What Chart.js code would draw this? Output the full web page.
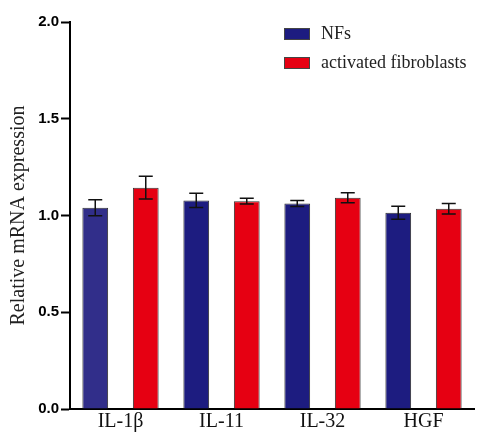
<!DOCTYPE html>
<html>
<head>
<meta charset="utf-8">
<script src="https://cdn.jsdelivr.net/npm/chart.js@4"></script>
<style>
  html, body { margin: 0; padding: 0; background: #fff; }
  #wrap { width: 477px; height: 436px; position: relative; }
</style>
</head>
<body>
<div id="wrap"><canvas id="chart"></canvas></div>
<script>
const genes = ['IL-1β', 'IL-11', 'IL-32', 'HGF']
const nfValues = [1.04, 1.078, 1.062, 1.014]
const nfErrors = [0.041, 0.037, 0.016, 0.034]
const afValues = [1.144, 1.074, 1.092, 1.035]
const afErrors = [0.059, 0.015, 0.026, 0.027]
const yTicks = [0, 0.5, 1.0, 1.5, 2.0]

const serif = "'Liberation Serif', 'Times New Roman', serif"
const sans = "'Liberation Sans', Arial, sans-serif"

// error bars drawn on top of each bar
const errorBars = {
  id: 'errorBars',
  afterDatasetsDraw(chart) {
    const ctx = chart.ctx
    const y = chart.scales.y
    ctx.save()
    ctx.strokeStyle = '#111'
    ctx.lineWidth = 1.5
    chart.data.datasets.forEach((ds, i) => {
      const meta = chart.getDatasetMeta(i)
      meta.data.forEach((bar, j) => {
        const v = ds.data[j]
        const e = ds.errors[j]
        const top = y.getPixelForValue(v + e)
        const bot = y.getPixelForValue(v - e)
        const x = bar.x
        ctx.beginPath()
        ctx.moveTo(x, top); ctx.lineTo(x, bot)
        ctx.moveTo(x - 7, top); ctx.lineTo(x + 7, top)
        ctx.moveTo(x - 7, bot); ctx.lineTo(x + 7, bot)
        ctx.stroke()
      })
    })
    ctx.restore()
  },
}

// legend in the upper right corner
const cornerLegend = {
  id: 'cornerLegend',
  afterDraw(chart) {
    const ctx = chart.ctx
    ctx.save()
    chart.data.datasets.forEach((ds, i) => {
      const top = 28 + i * 29
      ctx.fillStyle = Array.isArray(ds.backgroundColor) ? ds.backgroundColor[1] : ds.backgroundColor
      ctx.fillRect(284, top, 26, 12)
      ctx.strokeStyle = '#444'
      ctx.lineWidth = 1
      ctx.strokeRect(284.5, top + 0.5, 25, 11)
      ctx.fillStyle = '#222'
      ctx.font = '18px ' + serif
      ctx.textBaseline = 'middle'
      ctx.fillText(ds.label, 321, top + 6)
    })
    ctx.restore()
  },
}

new Chart(document.getElementById('chart'), {
  type: 'bar',
  data: {
    labels: genes,
    datasets: [
      {
        label: 'NFs',
        data: nfValues,
        errors: nfErrors,
        backgroundColor: ['#312e8a', '#1d1c80', '#1d1c80', '#1d1c80'],
        borderColor: '#333',
        borderWidth: 1,
      },
      {
        label: 'activated fibroblasts',
        data: afValues,
        errors: afErrors,
        backgroundColor: '#e60012',
        borderColor: '#333',
        borderWidth: 1,
      },
    ],
  },
  options: {
    responsive: true,
    maintainAspectRatio: false,
    animation: false,
    layout: { padding: { top: 22, right: 3, left: 0, bottom: 0 } },
    plugins: { legend: { display: false }, tooltip: { enabled: false } },
    datasets: { bar: { categoryPercentage: 1.0, barPercentage: 0.51 } },
    scales: {
      x: {
        grid: { display: false, drawTicks: false },
        border: { display: true, color: '#000', width: 2 },
        ticks: { color: '#111', font: { family: serif, size: 20 }, padding: 1 },
        afterFit(s) { s.height = 27 },
      },
      y: {
        min: 0,
        max: 2,
        afterBuildTicks(s) { s.ticks = yTicks.map((v) => ({ value: v })) },
        grid: { drawOnChartArea: false, drawTicks: true, tickLength: 9, tickColor: '#000', tickWidth: 2 },
        border: { display: true, color: '#000', width: 2 },
        ticks: {
          color: '#000',
          padding: 2,
          font: { family: sans, size: 15, weight: 'bold' },
          callback: (v) => Number(v).toFixed(1),
        },
        title: {
          display: true,
          text: 'Relative mRNA expression',
          color: '#222',
          font: { family: serif, size: 20 },
          padding: { top: 7, bottom: 0 },
        },
        afterFit(s) { s.width = 70 },
      },
    },
  },
  plugins: [errorBars, cornerLegend],
})
</script>
</body>
</html>
